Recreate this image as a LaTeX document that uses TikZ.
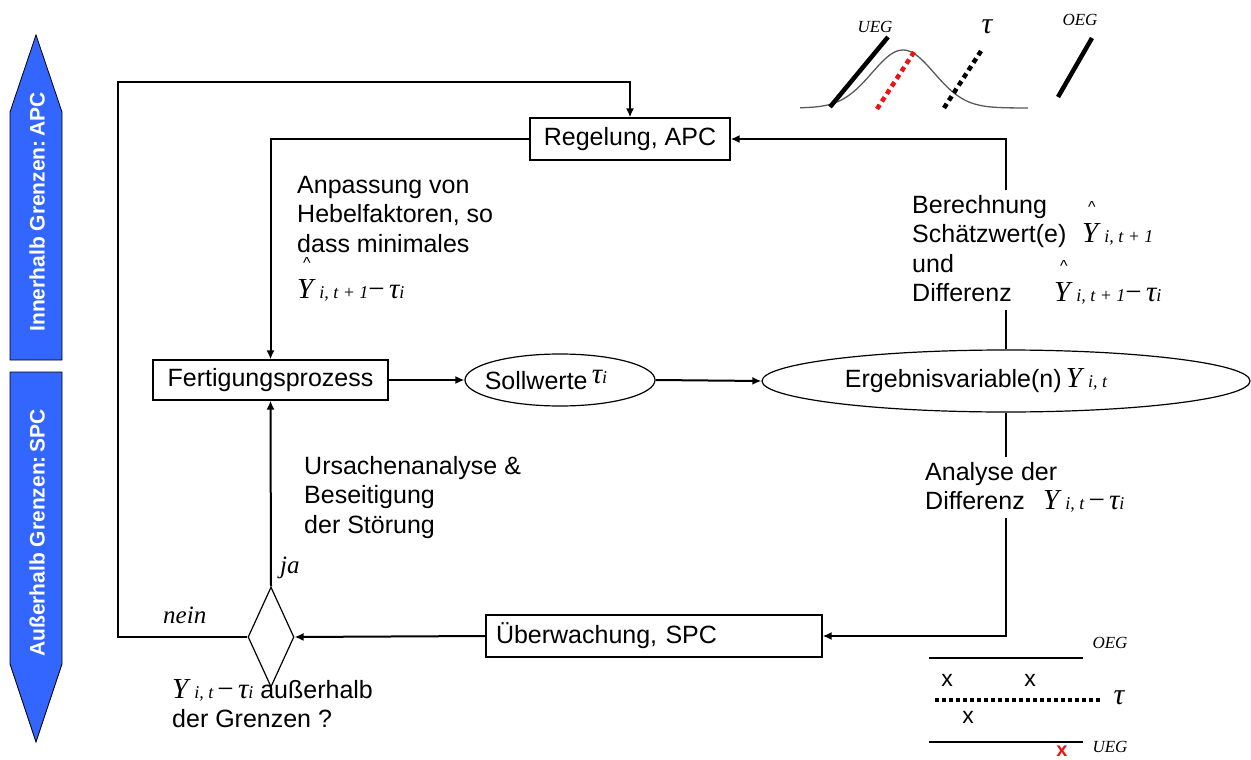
\documentclass[tikz,border=0pt]{standalone}
\usepackage{fontspec}
\setmainfont{Liberation Serif}
\setsansfont{Liberation Sans}
\usetikzlibrary{shapes.geometric,arrows.meta}

\definecolor{sideblue}{RGB}{51,102,255}
\definecolor{markred}{RGB}{235,20,20}

% text faces
\newcommand\txt{\sffamily\fontsize{25}{29.5}\selectfont}
\newcommand\Ys{{\fontsize{29}{30}\selectfont\rmfamily\itshape Y}}
\newcommand\sbs[1]{{\fontsize{18}{20}\selectfont\rmfamily\itshape #1}}
\newcommand\mns{{\fontsize{29}{30}\selectfont\rmfamily −}}
\newcommand\taus{{\fontsize{29}{30}\selectfont\rmfamily\itshape τ}}
\newcommand\hatY{\rlap{\smash{\raisebox{30pt}{\kern6pt\fontsize{16}{18}\selectfont\sffamily\textasciicircum}}}\Ys}
% composite expressions
\newcommand\Yit{\Ys\kern6pt\sbs{i, t}\,\mns\,\taus\sbs{i}}
\newcommand\Yhatnext{\hatY\kern6pt\sbs{i, t + 1}}
\newcommand\Yhatdiff{\hatY\kern6pt\sbs{i, t + 1}\mns\,\taus\sbs{i}}

\tikzset{
  box/.style={draw, line width=1.2pt, minimum height=42pt, inner sep=0pt, font=\txt},
  oval/.style={draw, ellipse, line width=1.2pt, inner sep=0pt},
  conn/.style={line width=2pt, -{Latex[length=9pt,width=8pt]}},
  lbl/.style={font=\txt, align=left, inner sep=0pt, anchor=north west},
  seri/.style={font=\rmfamily\itshape\fontsize{25}{30}\selectfont, inner sep=0pt},
  small/.style={font=\rmfamily\itshape\fontsize{17}{20}\selectfont, inner sep=0pt},
  sidearrow/.style={fill=sideblue, draw=black, line width=0.8pt},
  sidetext/.style={text=white, font=\sffamily\bfseries\fontsize{21}{24}\selectfont, rotate=90, inner sep=0pt},
  limit/.style={line width=2pt},
  xmark/.style={font=\sffamily\fontsize{23}{24}\selectfont, inner sep=0pt}
}

\begin{document}
\begin{tikzpicture}[x=1pt,y=-1pt]
\useasboundingbox (0,0) rectangle (1251,760);

% side arrows
\draw[sidearrow] (10,360) -- (10,112) -- (36,35) -- (62,112) -- (62,360) -- cycle;
\node[sidetext] (apcside) at (37,212) {Innerhalb Grenzen:\,APC};
\draw[sidearrow] (10,372) -- (62,372) -- (62,664) -- (36,742) -- (10,664) -- cycle;
\node[sidetext] (spcside) at (37,533) {Außerhalb Grenzen:\,SPC};

% main nodes
\node[box, minimum width=200pt] (reg) at (630,139) {Regelung, APC};
\node[box, minimum width=235pt, minimum height=40pt] (fert) at (270.5,380) {Fertigungsprozess};
\node[oval, minimum width=190pt, minimum height=52pt] (soll) at (560,380) {};
\node[font=\txt, inner sep=0pt] (sollt) at (546,380) {Sollwerte\,\raisebox{6pt}{\taus\sbs{i}}};
\node[oval, minimum width=488pt, minimum height=62pt] (erg) at (1006,381) {};
\node[font=\txt, inner sep=0pt] (ergt) at (976,381) {Ergebnisvariable(n)\,\Ys\kern6pt\sbs{i, t}};
\node[box, text width=316pt, align=left, inner xsep=10pt] (ueb) at (654,636) {Überwachung, SPC};
\node[draw, diamond, aspect=0.46, minimum width=46pt, minimum height=100pt,
      inner sep=0pt, line width=1.2pt] (dia) at (271,637) {};

% connectors
\coordinate (nl) at (118,637);
\coordinate (nt) at (118,82);
\coordinate (rc) at (erg.north |- reg.east);
\draw[conn] (dia.west) -- (nl) -- (nt) -| (reg.north);
\draw[conn] (reg.west) -| (fert.north);
\draw[conn] (fert.east) -- (soll.west);
\draw[conn] (soll.east) -- (erg.west);
\draw[conn] (erg.north) -- (rc) -- (reg.east);
\draw[conn] (erg.south) |- (ueb.east);
\draw[conn] (ueb.west) -- (dia.east);
\draw[conn] (dia.north) -- (fert.south);

% labels
\node[lbl] (anp) at (297,176) {Anpassung von\\Hebelfaktoren, so\\dass minimales\\[17pt]\Yhatdiff};
\node[lbl, fill=white, inner sep=5pt] (ber) at (907,190)
  {Berechnung\\\makebox[170pt][l]{Schätzwert(e)}\Yhatnext\\und\\\makebox[142pt][l]{Differenz}\Yhatdiff};
\node[lbl, fill=white, inner sep=5pt] (ana) at (920,457)
  {Analyse der\\\makebox[118pt][l]{Differenz}\Yit};
\node[lbl] (urs) at (304,456) {Ursachenanalyse \&\\Beseitigung\\der Störung};
\node[lbl] (cond) at (172,679) {\Yit\ außerhalb\\der Grenzen ?};
\node[seri, anchor=base west] (ja) at (280,573) {ja};
\node[seri, anchor=base west] (nein) at (163,623) {nein};

% distribution sketch with limits
\draw[gray!70!black, line width=1.3pt] plot[domain=800:1028, samples=90]
  (\x, {108 - 58*exp(-((\x-903)*(\x-903))/1922)});
\draw[limit, line width=4.5pt] (830,107) -- (888,37);
\draw[markred, line width=4.5pt, dash pattern=on 5pt off 4pt] (877,109) -- (914,52);
\draw[line width=4.5pt, dash pattern=on 5pt off 4pt] (944,108) -- (981,51);
\draw[limit, line width=4.5pt] (1058,97) -- (1092,38);
\node[small] (ueg1) at (875,27) {UEG};
\node[small] (oeg1) at (1080,20) {OEG};
\node[font=\rmfamily\itshape\fontsize{30}{30}\selectfont, inner sep=0pt] (tau1) at (987,27) {τ};

% control chart sketch
\draw[limit] (929,658) -- (1083,658);
\draw[limit] (929,742) -- (1083,742);
\draw[line width=4pt, dash pattern=on 4pt off 3pt] (935,700) -- (1102,700);
\node[small] (oeg2) at (1110,643) {OEG};
\node[small] (ueg2) at (1110,747) {UEG};
\node[font=\rmfamily\itshape\fontsize{30}{30}\selectfont, inner sep=0pt] (tau2) at (1119,698) {τ};
\node[xmark] (x1) at (947,680) {x};
\node[xmark] (x2) at (1030,680) {x};
\node[xmark] (x3) at (968,717) {x};
\node[xmark, text=markred, font=\sffamily\bfseries\fontsize{20}{22}\selectfont] (x4) at (1062,751) {x};
\end{tikzpicture}
\end{document}
